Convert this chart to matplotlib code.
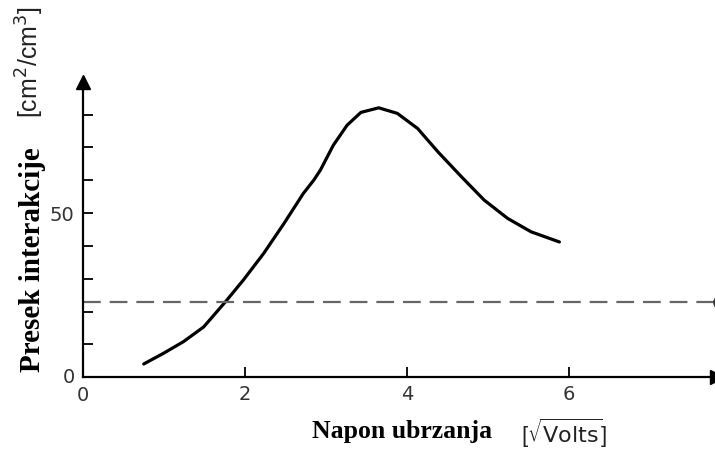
import matplotlib.pyplot as plt

# cross section vs accelerating voltage (sqrt V)
napon = [0.75, 0.99, 1.24, 1.49, 1.76, 1.98, 2.23, 2.48, 2.72, 2.85, 2.93, 3.09, 3.26,
         3.43, 3.65, 3.88, 4.13, 4.38, 4.67, 4.95, 5.24, 5.53, 5.88]
presek = [4.0, 7.2, 10.8, 15.3, 23.0, 29.6, 37.7, 46.8, 56.0, 60.1, 63.1, 70.7, 76.8,
          80.7, 82.1, 80.4, 75.8, 68.7, 61.1, 54.0, 48.4, 44.3, 41.2]

prag = 23  # dashed reference level

x_ticks = [2, 4, 6]
x_ticklabels = ["2", "4", "6"]
y_ticks = [10, 20, 30, 40, 50, 60, 70, 80]
y_ticklabels = ["", "", "", "", "50", "", "", ""]

fig = plt.figure(figsize=(7.15, 4.5), dpi=100)
ax = fig.add_axes([0.116, 0.162, 0.884, 0.656])

ax.plot(napon, presek, color="black", lw=2.3, solid_capstyle="round", solid_joinstyle="round")
ax.axhline(prag, color="#666666", lw=1.6, dashes=(8, 4))
ax.plot([7.86], [prag], marker="o", ms=9, mfc="white", mec="#333333", mew=1.5, clip_on=False)

ax.set_xlim(0, 7.8)
ax.set_ylim(0, 90)

for s in ["top", "right"]:
    ax.spines[s].set_visible(False)
for s in ["left", "bottom"]:
    ax.spines[s].set_linewidth(1.6)

# arrow heads at axis ends
ax.plot([0], [90], marker="^", ms=10, color="black", clip_on=False)
ax.plot([7.83], [0], marker=">", ms=10, color="black", clip_on=False)

ax.set_xticks(x_ticks)
ax.set_xticklabels(x_ticklabels)
ax.set_yticks(y_ticks)
ax.set_yticklabels(y_ticklabels)
ax.tick_params(direction="in", length=7, width=1.3, labelsize=14, pad=6, colors="black", labelcolor="#333333")

ax.text(0, -2.8, "0", ha="center", va="top", fontsize=14, color="#333333")
ax.text(-0.1, 0, "0", ha="right", va="center", fontsize=14, color="#333333")

fig.text(0.045, 0.422, "Presek interakcije", rotation=90, ha="center", va="center",
         fontsize=21, fontweight="bold", family="Liberation Serif")
fig.text(0.042, 0.862, "[cm$^2$/cm$^3$]", rotation=90, ha="center", va="center",
         fontsize=18, family="Liberation Sans", color="#222222")
fig.text(0.562, 0.042, "Napon ubrzanja", ha="center", va="center",
         fontsize=18.5, fontweight="bold", family="Liberation Serif")
fig.text(0.789, 0.036, r"[$\sqrt{\mathrm{Volts}}$]", ha="center", va="center",
         fontsize=16, family="Liberation Sans", color="#222222")

fig.savefig("out.png", dpi=100)
